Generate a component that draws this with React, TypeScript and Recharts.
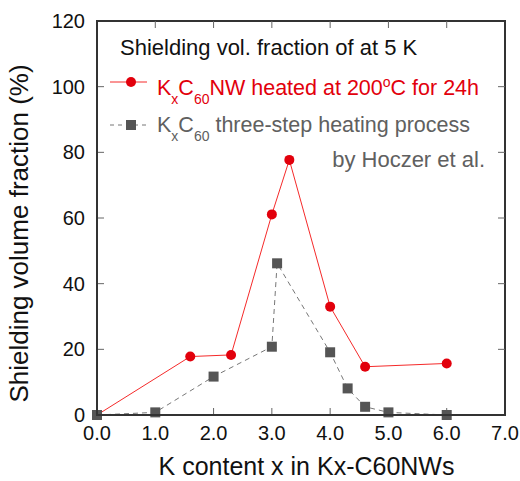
import React from "react";
import { LineChart, Line, XAxis, YAxis } from "recharts";

const xTicks = [0, 1, 2, 3, 4, 5, 6, 7];
const yTicks = [0, 20, 40, 60, 80, 100, 120];

const nwX = [0, 1.6, 2.3, 3.0, 3.3, 4.0, 4.6, 6.0];
const nwY = [0, 17.8, 18.3, 61.1, 77.7, 33.0, 14.7, 15.7];

const hoX = [0, 1.0, 2.0, 3.0, 3.09, 4.0, 4.3, 4.6, 5.0, 6.0];
const hoY = [0, 0.8, 11.7, 20.8, 46.2, 19.1, 8.1, 2.5, 0.8, 0];

const nwData = nwX.map((x, i) => ({ x, y: nwY[i] }));
const hoData = hoX.map((x, i) => ({ x, y: hoY[i] }));

const X_MIN = 0;
const X_MAX = 7;
const Y_MIN = 0;
const Y_MAX = 120;

const W = 520;
const H = 481;
const M_TOP = 21;
const M_RIGHT = 15;
const Y_AXIS_W = 97;
const X_AXIS_H = 66;
const PL = Y_AXIS_W;
const PT = M_TOP;
const PW = W - M_RIGHT - Y_AXIS_W;
const PH = H - M_TOP - X_AXIS_H;
const TICK = 7;

const RED = "#e2000c";
const RED_LINE = "#f52a2a";
const GRAY = "#555555";
const GRAY_TEXT = "#606060";
const FONT = "'Liberation Sans', Arial, Helvetica, sans-serif";

const SquareDot = (props: any) => {
  const { cx, cy } = props;
  if (cx == null || cy == null) return null;
  return <rect x={cx - 5} y={cy - 5} width={10} height={10} fill={GRAY} />;
};

const axisLine = { stroke: "#333", strokeWidth: 2 };
const tickLine = { stroke: "#666", strokeWidth: 1 };
const tickStyle = { fill: "#111", fontSize: 20, fontFamily: FONT };

export default function App() {
  return (
    <div style={{ position: "absolute", left: 0, top: 0, width: W, height: H, background: "#fff" }}>
      <LineChart width={W} height={H} margin={{ top: M_TOP, right: M_RIGHT, bottom: 0, left: 0 }}>
        <XAxis
          dataKey="x"
          type="number"
          domain={[X_MIN, X_MAX]}
          ticks={xTicks}
          height={X_AXIS_H}
          tickSize={-TICK}
          tickMargin={18}
          axisLine={axisLine}
          tickLine={tickLine}
          tick={tickStyle}
          tickFormatter={(v: number) => v.toFixed(1)}
        />
        <YAxis
          type="number"
          domain={[Y_MIN, Y_MAX]}
          ticks={yTicks}
          width={Y_AXIS_W}
          tickSize={-TICK}
          tickMargin={19}
          axisLine={axisLine}
          tickLine={tickLine}
          tick={tickStyle}
        />
        <Line
          data={nwData}
          dataKey="y"
          type="linear"
          stroke={RED_LINE}
          strokeWidth={1}
          dot={{ r: 5, fill: RED, stroke: "none" }}
          isAnimationActive={false}
        />
        <Line
          data={hoData}
          dataKey="y"
          type="linear"
          stroke="#777"
          strokeWidth={1}
          strokeDasharray="5 4"
          dot={<SquareDot />}
          isAnimationActive={false}
        />
      </LineChart>
      <svg
        width={W}
        height={H}
        style={{ position: "absolute", left: 0, top: 0, pointerEvents: "none" }}
        fontFamily={FONT}
      >
        <rect x={PL} y={PT} width={PW} height={PH} fill="none" stroke="#333" strokeWidth={2} />
        {xTicks.slice(1, -1).map((t) => {
          const x = PL + ((t - X_MIN) / (X_MAX - X_MIN)) * PW;
          return <line key={"tx" + t} x1={x} x2={x} y1={PT} y2={PT + TICK} stroke="#666" strokeWidth={1} />;
        })}
        {yTicks.slice(1, -1).map((t) => {
          const y = PT + PH - ((t - Y_MIN) / (Y_MAX - Y_MIN)) * PH;
          return (
            <line key={"ty" + t} x1={PL + PW - TICK} x2={PL + PW} y1={y} y2={y} stroke="#666" strokeWidth={1} />
          );
        })}
        <text x={306.5} y={475} textAnchor="middle" fontSize={25} fill="#111">
          K content x in Kx-C60NWs
        </text>
        <text transform="rotate(-90)" x={-233.5} y={28} textAnchor="middle" fontSize={26} fill="#111">
          Shielding volume fraction (%)
        </text>
        <text x={120} y={55} fontSize={22} fill="#111">
          Shielding vol. fraction of at 5 K
        </text>
        <line x1={110} x2={147} y1={82} y2={82} stroke={RED_LINE} strokeWidth={1} />
        <circle cx={131} cy={82} r={5} fill={RED} />
        <text x={157} y={95} fontSize={21.5} fill={RED}>
          K<tspan fontSize={14} dy={9}>x</tspan>
          <tspan dy={-9}>C</tspan>
          <tspan fontSize={14} dy={9}>60</tspan>
          <tspan dy={-9}>NW heated at 200</tspan>
          <tspan fontSize={14} dy={-8}>o</tspan>
          <tspan dy={8}>C for 24h</tspan>
        </text>
        <line x1={110} x2={147} y1={125} y2={125} stroke="#777" strokeWidth={1} strokeDasharray="4 4" />
        <rect x={126} y={120} width={10} height={10} fill={GRAY} />
        <text x={157} y={132} fontSize={21.5} fill={GRAY_TEXT}>
          K<tspan fontSize={14} dy={9}>x</tspan>
          <tspan dy={-9}>C</tspan>
          <tspan fontSize={14} dy={9}>60</tspan>
          <tspan dy={-9}> three-step heating process</tspan>
        </text>
        <text x={485} y={167} textAnchor="end" fontSize={22} fill={GRAY_TEXT}>
          by Hoczer et al.
        </text>
      </svg>
    </div>
  );
}
